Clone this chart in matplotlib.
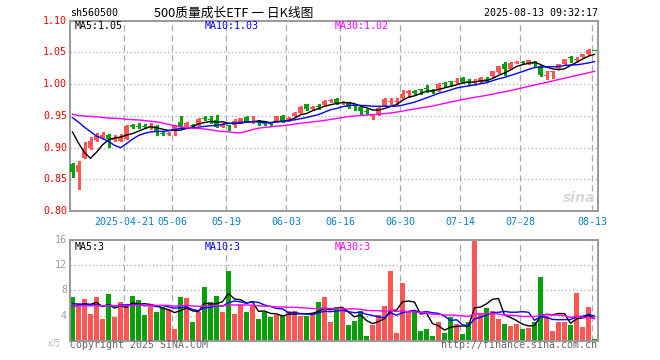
import numpy as np
import pandas as pd
import matplotlib
matplotlib.use("Agg")
import matplotlib.pyplot as plt

# ---------------- data ----------------
opens = [0.874, 0.862, 0.884, 0.900, 0.912, 0.917, 0.920, 0.912, 0.911, 0.914,
         0.936, 0.933, 0.934, 0.932, 0.934, 0.922, 0.921, 0.926, 0.940, 0.933,
         0.935, 0.937, 0.946, 0.944, 0.943, 0.933, 0.935, 0.935, 0.940, 0.948,
         0.940, 0.941, 0.941, 0.938, 0.941, 0.950, 0.943, 0.950, 0.954, 0.968,
         0.960, 0.965, 0.967, 0.974, 0.976, 0.970, 0.970, 0.966, 0.964, 0.958,
         0.949, 0.953, 0.966, 0.972, 0.972, 0.978, 0.986, 0.988, 0.992, 0.993,
         0.991, 0.990, 1.001, 1.004, 1.003, 1.010, 1.005, 1.002, 1.004, 1.008,
         1.012, 1.019, 1.032, 1.024, 1.034, 1.035, 1.032, 1.033, 1.028, 1.013,
         1.020, 1.024, 1.032, 1.042, 1.038, 1.043, 1.047, 1.054]
highs = [0.875, 0.878, 0.908, 0.916, 0.923, 0.924, 0.921, 0.920, 0.921, 0.935,
         0.937, 0.939, 0.937, 0.938, 0.935, 0.925, 0.924, 0.935, 0.949, 0.940,
         0.937, 0.947, 0.950, 0.950, 0.951, 0.938, 0.936, 0.945, 0.947, 0.949,
         0.950, 0.944, 0.942, 0.940, 0.950, 0.951, 0.948, 0.956, 0.965, 0.969,
         0.965, 0.969, 0.975, 0.977, 0.978, 0.973, 0.971, 0.967, 0.965, 0.960,
         0.953, 0.964, 0.978, 0.978, 0.978, 0.991, 0.990, 0.990, 0.992, 0.999,
         0.992, 1.001, 1.003, 1.005, 1.009, 1.011, 1.008, 1.008, 1.011, 1.011,
         1.021, 1.029, 1.035, 1.035, 1.037, 1.037, 1.038, 1.037, 1.030, 1.021,
         1.021, 1.031, 1.040, 1.045, 1.043, 1.048, 1.055, 1.054]
lows = [0.854, 0.835, 0.883, 0.898, 0.911, 0.914, 0.901, 0.911, 0.910, 0.913,
        0.930, 0.931, 0.930, 0.929, 0.920, 0.920, 0.920, 0.920, 0.932, 0.932,
        0.932, 0.936, 0.943, 0.938, 0.932, 0.932, 0.927, 0.933, 0.939, 0.940,
        0.939, 0.936, 0.935, 0.935, 0.940, 0.941, 0.942, 0.949, 0.953, 0.959,
        0.959, 0.960, 0.966, 0.971, 0.969, 0.968, 0.962, 0.9595, 0.953, 0.953,
        0.945, 0.952, 0.965, 0.968, 0.968, 0.977, 0.980, 0.983, 0.984, 0.987,
        0.986, 0.989, 0.997, 0.997, 1.001, 1.002, 0.999, 0.999, 1.003, 1.005,
        1.011, 1.018, 1.015, 1.023, 1.033, 1.032, 1.031, 1.027, 1.012, 1.008,
        1.009, 1.023, 1.031, 1.034, 1.034, 1.042, 1.046, 1.053]
closes = [0.862, 0.873, 0.900, 0.910, 0.918, 0.920, 0.913, 0.914, 0.917, 0.934,
          0.932, 0.932, 0.933, 0.933, 0.926, 0.921, 0.922, 0.934, 0.934, 0.939,
          0.934, 0.945, 0.945, 0.943, 0.933, 0.937, 0.934, 0.942, 0.946, 0.941,
          0.941, 0.940, 0.937, 0.937, 0.950, 0.942, 0.947, 0.955, 0.964, 0.960,
          0.964, 0.964, 0.974, 0.975, 0.970, 0.971, 0.964, 0.965, 0.957, 0.957,
          0.953, 0.963, 0.977, 0.973, 0.973, 0.985, 0.989, 0.987, 0.991, 0.992,
          0.987, 1.000, 1.000, 1.003, 1.004, 1.003, 1.004, 1.003, 1.010, 1.007,
          1.020, 1.028, 1.023, 1.033, 1.035, 1.034, 1.038, 1.032, 1.015, 1.014,
          1.021, 1.031, 1.039, 1.041, 1.039, 1.047, 1.054, 1.053]
# volume in 万 (10k)
volumes = [6.9, 5.8, 6.6, 4.3, 6.9, 3.5, 7.4, 3.8, 6.1, 5.7,
           7.1, 6.4, 4.1, 5.5, 4.5, 5.4, 5.1, 1.8, 7.0, 6.8,
           3.0, 4.5, 8.6, 6.2, 7.1, 4.6, 11.0, 4.2, 5.7, 4.5,
           5.5, 3.4, 4.5, 3.8, 4.1, 3.9, 4.7, 4.7, 4.0, 4.0,
           4.4, 6.2, 7.0, 3.0, 5.3, 5.0, 2.5, 3.1, 4.7, 0.75,
           2.5, 4.1, 5.5, 11.0, 1.2, 9.1, 4.7, 4.7, 1.5, 1.9,
           0.8, 3.0, 1.2, 3.8, 2.6, 1.1, 2.9, 15.8, 4.3, 5.2,
           4.7, 3.5, 2.7, 2.4, 2.7, 1.9, 2.0, 3.0, 10.2, 3.9,
           1.5, 3.0, 2.9, 2.5, 7.5, 2.1, 5.3, 0.2]
# 1 = red (up) session, 0 = green (down) session
up_day = [0, 1, 1, 1, 1, 1, 0, 1, 1, 1,
          0, 0, 0, 1, 0, 0, 1, 1, 0, 1,
          0, 1, 0, 0, 0, 1, 0, 1, 1, 0,
          1, 0, 0, 0, 1, 0, 1, 1, 1, 0,
          1, 0, 1, 1, 0, 1, 0, 0, 0, 0,
          1, 1, 1, 1, 1, 1, 1, 0, 0, 0,
          0, 1, 0, 0, 1, 0, 0, 1, 1, 0,
          1, 1, 0, 1, 1, 0, 1, 0, 0, 1,
          1, 1, 1, 0, 1, 1, 1, 0]
# sessions before the window (only feed the moving averages), estimated from the MA lines
prior_close = [0.933, 0.930, 0.925, 0.933, 0.950, 0.943, 0.929, 0.932, 0.964, 0.947,
               0.947, 0.963, 0.963, 0.956, 0.980, 0.985, 0.995, 0.990, 0.975, 0.964,
               0.943, 0.980, 0.980, 0.988, 0.957, 0.960, 0.975, 0.955, 0.870]
prior_volume = [5.0, 6.2, 4.8, 5.5, 4.6, 5.9, 5.2, 4.9, 6.0, 5.1,
                5.6, 4.7, 5.3, 5.8, 4.9, 5.4, 5.7, 5.0, 5.2, 5.3,
                6.5, 7.0, 5.5, 6.5, 6.0, 5.0, 5.5, 4.8, 5.3]
tick_idx = [9, 17, 26, 36, 45, 55, 65, 75, 87]
tick_labels = ["2025-04-21", "05-06", "05-19", "06-03", "06-16",
               "06-30", "07-14", "07-28", "08-13"]
price_ticks = [0.80, 0.85, 0.90, 0.95, 1.00, 1.05, 1.10]
vol_ticks = [4, 8, 12, 16]
ma_windows = [5, 10, 30]
ma_colors = ["#000000", "#0000FF", "#FF00FF"]
price_ma_text = ["MA5:1.05", "MA10:1.03", "MA30:1.02"]
vol_ma_text = ["MA5:3", "MA10:3", "MA30:3"]

# ---------------- figure ----------------
W, H = 660, 360
fig = plt.figure(figsize=(W / 100, H / 100), dpi=100)
fig.patch.set_facecolor("white")


def fx(px):
    return px / W


def fy(py):
    return 1 - py / H


MONO = "DejaVu Sans Mono"
FS = 7.2
RED = "#FF5555"
GREEN = "#08A008"
GRID = "#AAAAAA"
n = len(closes)
x = np.arange(n)
xlim = (-0.417, n - 0.417)

L, R = 70, 598
ax = fig.add_axes([fx(L), fy(211), fx(R) - fx(L), fy(20.6) - fy(211)])
axv = fig.add_axes([fx(L), fy(340.7), fx(R) - fx(L), fy(240) - fy(340.7)])

for a in (ax, axv):
    a.set_xlim(*xlim)
    a.set_xticks([])
    a.set_yticks([])
    for s in a.spines.values():
        s.set_color("#999999")
        s.set_linewidth(1.4)
    for t in tick_idx:
        a.axvline(t - 0.37, color=GRID, lw=0.9, ls=(0, (5, 3)), zorder=0)

ax.set_ylim(0.80, 1.10)
axv.set_ylim(0, 16)
for p in price_ticks[1:-1]:
    ax.axhline(p, color=GRID, lw=0.9, ls=(0, (1, 2)), zorder=0)
for v in vol_ticks[:-1]:
    axv.axhline(v, color=GRID, lw=0.9, ls=(0, (1, 2)), zorder=0)

# candles
bw = 0.84
for i in range(n):
    o, h, l, c = opens[i], highs[i], lows[i], closes[i]
    col = RED if up_day[i] else GREEN
    ax.vlines(i, l, h, color=col, lw=1.0, zorder=2, antialiased=False)
    if abs(c - o) >= 0.0016:
        bottom, body = min(o, c), abs(c - o)
    else:
        bottom, body = (o + c) / 2 - 0.0008, 0.0016
    ax.bar(i, body, bottom=bottom, width=bw, color=col, lw=0, zorder=3, antialiased=False)

# moving averages
full_c = pd.Series(prior_close + closes)
full_v = pd.Series(prior_volume + volumes)
k = len(prior_close)
for w, col in zip(ma_windows, ma_colors):
    ax.plot(x, full_c.rolling(w).mean().values[k:], color=col, lw=1.0, zorder=4)
    axv.plot(x, full_v.rolling(w).mean().values[k:], color=col, lw=1.0, zorder=4)

# volume bars
axv.bar(x, volumes, width=bw, color=[RED if u else GREEN for u in up_day], lw=0, zorder=2,
        antialiased=False)

# ---------------- texts ----------------
for p in price_ticks:
    py = 211 - (p - 0.80) / 0.30 * (211 - 20.6)
    fig.text(fx(67), fy(py), f"{p:.2f}", color="#FF0000", family=MONO, fontsize=FS,
             ha="right", va="center")
for v in vol_ticks:
    py = 340.7 - v / 16 * (340.7 - 240)
    fig.text(fx(67), fy(py), f"{v}", color="#999999", family=MONO, fontsize=FS,
             ha="right", va="center")
fig.text(fx(48), fy(344), "x万", color="#BBBBBB", family=["Noto Sans CJK SC", "DejaVu Sans"],
         fontsize=6.5, ha="left", va="center")

for t, lab in zip(tick_idx, tick_labels):
    px = 72.5 + 6 * t - 2.2
    fig.text(fx(px), fy(222), lab, color="#0A7FD0", family=MONO, fontsize=FS,
             ha="center", va="center")

for xs, s, col in zip([75, 205, 335], price_ma_text, ma_colors):
    fig.text(fx(xs), fy(26.3), s, color=col, family=MONO, fontsize=FS, ha="left", va="center")
for xs, s, col in zip([75, 205, 335], vol_ma_text, ma_colors):
    fig.text(fx(xs), fy(246.5), s, color=col, family=MONO, fontsize=FS, ha="left", va="center")

fig.text(fx(70), fy(13.3), "sh560500", color="#000000", family=MONO, fontsize=FS,
         ha="left", va="center")
fig.text(fx(233.5), fy(13), "500质量成长ETF 一 日K线图", color="#000000",
         family=["Noto Sans CJK SC", "DejaVu Sans"], fontsize=9.2, ha="center", va="center")
fig.text(fx(598), fy(13.3), "2025-08-13 09:32:17", color="#000000", family=MONO, fontsize=FS,
         ha="right", va="center")

fig.text(fx(70), fy(345.5), "Copyright 2025 SINA.COM", color="#666666", family=MONO,
         fontsize=FS, ha="left", va="center")
fig.text(fx(597), fy(345.5), "http://finance.sina.com.cn", color="#666666", family=MONO,
         fontsize=FS, ha="right", va="center")

# sina watermark
fig.text(fx(595), fy(198), "sina", color="#D8D8D8", family="DejaVu Sans", fontsize=10,
         fontweight="bold", style="italic", ha="right", va="center")

fig.savefig("out.png", dpi=100, facecolor="white")
